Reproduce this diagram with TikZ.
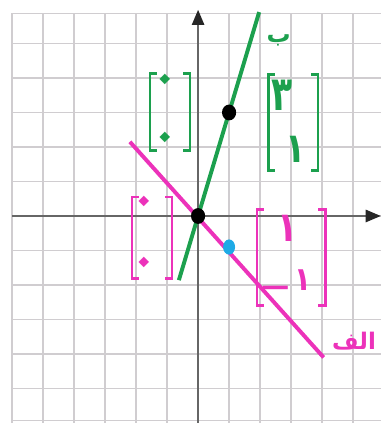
\documentclass[tikz,border=0pt]{standalone}
\usepackage{fontspec}
\newfontfamily\arabicfont[Script=Arabic]{DejaVu Sans}
\TeXXeTstate=1
\usetikzlibrary{arrows.meta,shapes.geometric}
\definecolor{mygreen}{RGB}{28,160,78}
\definecolor{mypink}{RGB}{236,50,186}
\definecolor{myblue}{RGB}{30,170,230}
\definecolor{mygrid}{RGB}{208,205,208}
\tikzset{
  gridline/.style={draw=mygrid, line width=1.1pt},
  axisline/.style={draw=black!60, line width=2.4pt, -{Triangle[length=14pt,width=11pt,color=black!85]}},
  gline/.style={draw=mygreen, line width=3.6pt},
  pline/.style={draw=mypink, line width=3.6pt},
  gbr/.style={draw=mygreen, line width=2.6pt},
  pbr/.style={draw=mypink, line width=2.6pt},
  bdot/.style={ellipse, fill=black, inner sep=0pt, minimum width=13pt, minimum height=14.5pt},
  cdot/.style={ellipse, fill=myblue, inner sep=0pt, minimum width=11pt, minimum height=14pt},
  gtxt/.style={text=mygreen, inner sep=0pt, font=\arabicfont\bfseries\fontsize{38}{38}\selectfont},
  ptxt/.style={text=mypink, inner sep=0pt, font=\arabicfont\bfseries\fontsize{38}{38}\selectfont},
  zero/.style={inner sep=0pt, rotate=45, font=\arabicfont\bfseries\fontsize{40}{40}\selectfont},
}
\begin{document}
\begin{tikzpicture}[x=1cm, y=1.113cm]
\useasboundingbox (-6.39,-6.0) rectangle (5.9,6.26);
% grid
\foreach \x in {-6,...,5} \draw[gridline] (\x,-6) -- (\x,5.88);
\foreach \y in {-5,...,5} \draw[gridline] (-6,\y) -- (5.9,\y);
\draw[gridline] (-6,5.88) -- (5.9,5.88);
\draw[gridline] (-6,-5.92) -- (5.9,-5.92);
% axes
\coordinate (xl) at (-6,0);
\coordinate (xr) at (5.9,0);
\coordinate (yb) at (0,-6);
\coordinate (yt) at (0,5.98);
\draw[axisline] (xl) -- (xr);
\draw[axisline] (yb) -- (yt);
% lines
\coordinate (g1) at (-0.62,-1.86);
\coordinate (g2) at (1.97,5.91);
\draw[gline] (g1) -- (g2);
\coordinate (p1) at (-2.2,2.15);
\coordinate (p2) at (4.05,-4.1);
\draw[pline] (p1) -- (p2);
% dots
\node[bdot] (O) at (0,0) {};
\node[bdot] (P) at (1,3) {};
\node[cdot] (Q) at (1,-0.9) {};
% green left bracket
\draw[gbr] (-1.33,4.14) -- (-1.55,4.14) -- (-1.55,1.91) -- (-1.33,1.91);
\draw[gbr] (-0.48,4.14) -- (-0.26,4.14) -- (-0.26,1.91) -- (-0.48,1.91);
\node[zero, text=mygreen] (gz1) at (-0.97,3.88) {٠};
\node[zero, text=mygreen] (gz2) at (-0.97,2.2) {٠};
% green right bracket
\draw[gbr] (2.48,4.09) -- (2.26,4.09) -- (2.26,1.33) -- (2.48,1.33);
\draw[gbr] (3.65,4.09) -- (3.87,4.09) -- (3.87,1.33) -- (3.65,1.33);
\node[gtxt, font=\arabicfont\bfseries\fontsize{44}{44}\selectfont, xscale=0.72] (g3) at (2.7,3.5) {٣};
\node[gtxt, xscale=0.8] (g4) at (3.13,1.92) {١};
% pink left bracket
\draw[pbr] (-1.91,0.55) -- (-2.13,0.55) -- (-2.13,-1.8) -- (-1.91,-1.8);
\draw[pbr] (-1.06,0.55) -- (-0.84,0.55) -- (-0.84,-1.8) -- (-1.06,-1.8);
\node[zero, text=mypink] (pz1) at (-1.65,0.32) {٠};
\node[zero, text=mypink] (pz2) at (-1.65,-1.42) {٠};
% pink right bracket
\draw[pbr] (2.12,0.2) -- (1.9,0.2) -- (1.9,-2.6) -- (2.12,-2.6);
\draw[pbr] (3.88,0.2) -- (4.1,0.2) -- (4.1,-2.6) -- (3.88,-2.6);
\node[ptxt, xscale=0.8] (p3) at (2.9,-0.37) {١};
\node[ptxt, font=\arabicfont\bfseries\fontsize{30}{30}\selectfont, xscale=0.85] (p4) at (3.38,-1.87) {١};
\node[ptxt, font=\arabicfont\bfseries\fontsize{28}{28}\selectfont, xscale=1.3] (pm) at (2.5,-2.2) {−};
% labels
\node[text=mygreen, inner sep=0pt, font=\arabicfont\bfseries\fontsize{22}{22}\selectfont] (lb) at (2.6,5.08) {\beginR ب\endR};
\node[text=mypink, inner sep=0pt, font=\arabicfont\bfseries\fontsize{21}{21}\selectfont] (la) at (5.03,-3.62) {\beginR الف\endR};
\end{tikzpicture}
\end{document}
